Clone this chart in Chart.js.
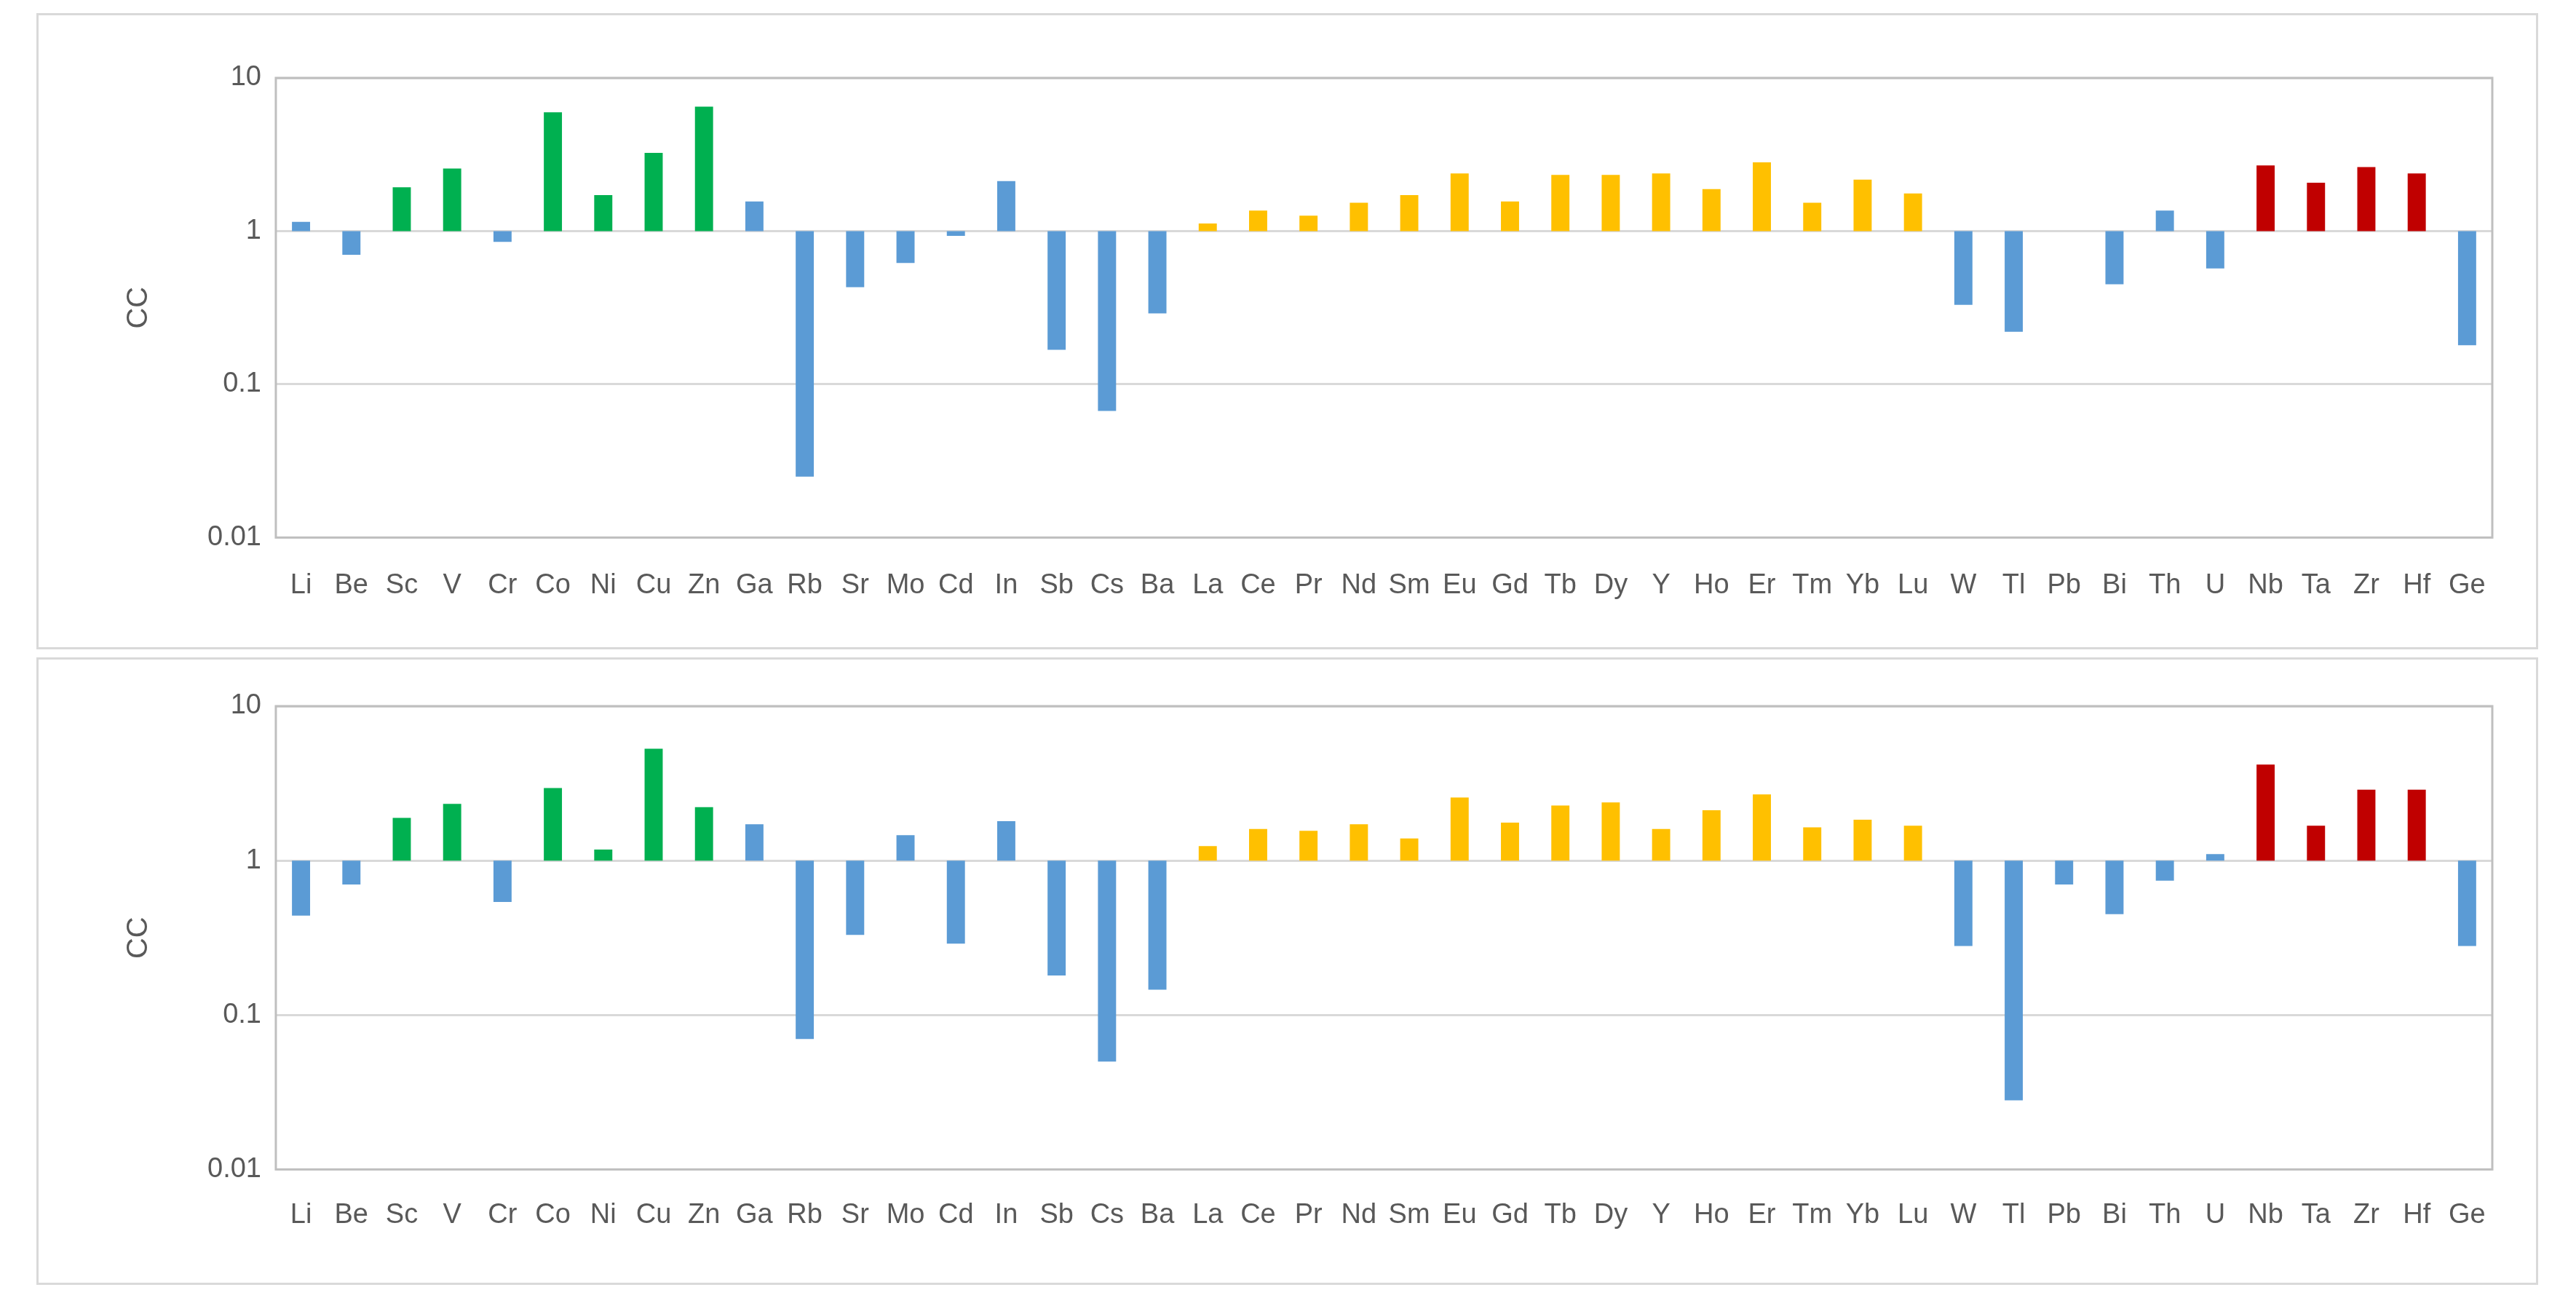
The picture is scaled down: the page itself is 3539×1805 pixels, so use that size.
<!DOCTYPE html>
<html><head><meta charset="utf-8">
<script src="https://cdn.jsdelivr.net/npm/chart.js@4/dist/chart.umd.min.js"></script>
<style>
body{margin:0;background:#fff;width:3539px;height:1805px;position:relative;font-family:"Open Sans",Calibri,sans-serif}
.box{position:absolute;left:50px;width:3437px;border:3px solid #D9D9D9;box-sizing:border-box}
</style></head><body>
<div class="box" style="top:18px;height:874px"><canvas id="c1"></canvas></div>
<div class="box" style="top:903px;height:862px"><canvas id="c2"></canvas></div>
<script>
const elements=["Li","Be","Sc","V","Cr","Co","Ni","Cu","Zn","Ga","Rb","Sr","Mo","Cd","In","Sb","Cs","Ba","La","Ce","Pr","Nd","Sm","Eu","Gd","Tb","Dy","Y","Ho","Er","Tm","Yb","Lu","W","Tl","Pb","Bi","Th","U","Nb","Ta","Zr","Hf","Ge"];
const ccTop=[1.15,0.70,1.93,2.56,0.85,5.96,1.72,3.24,6.5,1.56,0.025,0.43,0.62,0.93,2.12,0.168,0.067,0.29,1.12,1.36,1.26,1.53,1.72,2.38,1.56,2.33,2.33,2.38,1.88,2.81,1.53,2.17,1.76,0.33,0.22,null,0.45,1.36,0.57,2.68,2.07,2.62,2.38,0.18];
const ccBottom=[0.44,0.70,1.89,2.33,0.54,2.95,1.18,5.3,2.22,1.72,0.07,0.33,1.46,0.29,1.80,0.18,0.05,0.146,1.24,1.60,1.56,1.72,1.39,2.56,1.76,2.27,2.38,1.60,2.12,2.68,1.64,1.84,1.68,0.28,0.028,0.70,0.45,0.74,1.10,4.19,1.68,2.88,2.88,0.28];
const yTicks=[0.01,0.1,1,10];
const greenEl=["Sc","V","Co","Ni","Cu","Zn"];
const redEl=["Nb","Ta","Zr","Hf"];
const yellowEl=["La","Ce","Pr","Nd","Sm","Eu","Gd","Tb","Dy","Y","Ho","Er","Tm","Yb","Lu"];
const colors=elements.map(e=>greenEl.includes(e)?"#00B050":redEl.includes(e)?"#C00000":yellowEl.includes(e)?"#FFC000":"#5B9BD5");
const frame={id:"frame",afterDatasetsDraw(c){const a=c.chartArea,x=c.ctx;x.save();x.strokeStyle="#BFBFBF";x.lineWidth=3;x.strokeRect(a.left,a.top,a.right-a.left,a.bottom-a.top);x.restore();}};
function make(id,vals,h,padTop,padBottom,xPad){
  const cv=document.getElementById(id);cv.width=3431;cv.height=h;
  new Chart(cv,{type:"bar",data:{labels:elements,datasets:[{data:vals.map(v=>v==null?null:[1,v]),backgroundColor:colors,barPercentage:0.36,categoryPercentage:1}]},
  options:{responsive:false,animation:false,layout:{padding:{left:110,right:60,top:padTop,bottom:padBottom}},
   plugins:{legend:{display:false},tooltip:{enabled:false}},
   scales:{x:{grid:{display:false},border:{display:false},ticks:{color:"#595959",font:{size:38},maxRotation:0,autoSkip:false,padding:xPad}},
    y:{type:"logarithmic",min:0.01,max:10,afterBuildTicks:s=>{s.ticks=yTicks.map(v=>({value:v}));},
     ticks:{color:"#595959",font:{size:38},padding:20,callback:v=>String(v)},
     grid:{color:"#D9D9D9",lineWidth:3,drawTicks:false},border:{display:false},
     title:{display:true,text:"CC",color:"#595959",font:{size:40},padding:{bottom:50}}}}},
  plugins:[frame]});
}
make("c1",ccTop,868,86,27,35);
make("c2",ccBottom,856,64,38,32);
</script></body></html>
